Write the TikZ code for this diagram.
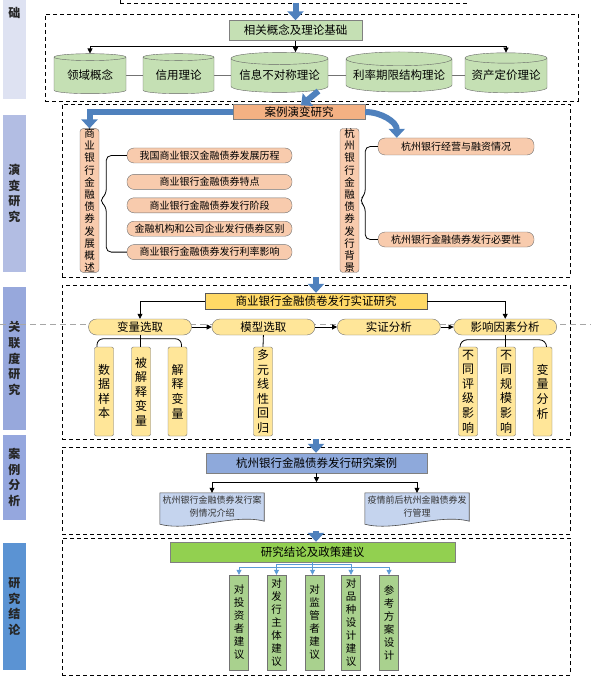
\documentclass[tikz,border=0pt]{standalone}
\usepackage{fontspec}
\setmainfont{Noto Sans CJK SC}
\usetikzlibrary{positioning,calc,arrows.meta,shapes.geometric,backgrounds}
\definecolor{arrowblue}{HTML}{4F81BD}
\definecolor{sb0}{HTML}{DEE2F2}
\definecolor{sb1}{HTML}{B2BDE3}
\definecolor{sb2}{HTML}{97A8DC}
\definecolor{sb3}{HTML}{95A7DE}
\definecolor{sb4}{HTML}{5B93D3}
\definecolor{lgrn}{HTML}{C5E0B4}
\definecolor{sal}{HTML}{F8CBAD}
\definecolor{org}{HTML}{F4B183}
\definecolor{yel}{HTML}{FFD966}
\definecolor{ylt}{HTML}{FFE699}
\definecolor{blu}{HTML}{8EA9DB}
\definecolor{bludoc}{HTML}{C5D4EE}
\definecolor{grn}{HTML}{92D050}
\definecolor{grnlt}{HTML}{A9D18E}
\definecolor{lblue}{HTML}{5B9BD5}
\tikzset{
    group/.style={draw, line width=0.8pt, dash pattern=on 4pt off 3pt, inner sep=0pt, outer sep=0pt},
    side/.style={minimum width=23pt, inner sep=0pt, align=center, text=black!85, font=\bfseries\fontsize{12}{15.6}\selectfont},
    title/.style={draw=black!50, inner sep=0pt, font=\fontsize{11.5}{13}\selectfont},
    cyl/.style={cylinder, shape border rotate=90, aspect=0.15, draw=black!60, fill=lgrn, minimum height=40pt, inner sep=0pt, font=\fontsize{11.5}{13}\selectfont},
    item/.style={draw=black!55, fill=sal, rounded corners=7pt, minimum width=165pt, minimum height=15pt, inner sep=0pt, font=\fontsize{10}{12}\selectfont},
    col/.style={draw=black!55, fill=sal, rounded corners=3pt, inner sep=0pt, minimum width=19pt, minimum height=143pt, align=center, font=\fontsize{10.5}{12.2}\selectfont},
    pill/.style={draw=black!55, fill=ylt, rounded corners=8pt, minimum width=103pt, minimum height=16pt, inner sep=0pt, font=\fontsize{11.5}{13}\selectfont},
    vy/.style={draw=black!55, fill=ylt, rounded corners=2pt, inner sep=0pt, minimum width=19pt, minimum height=89pt, align=center, font=\fontsize{12}{14.6}\selectfont},
    vg/.style={draw=black!55, fill=grnlt, inner sep=0pt, minimum width=19pt, minimum height=95pt, align=center, font=\fontsize{10.5}{13}\selectfont},
    doc/.style={inner sep=0pt, minimum width=104pt, minimum height=28pt, align=center, text=black!80, font=\fontsize{9}{13}\selectfont},
    docline/.style={draw=black!70, fill=bludoc, line width=0.6pt},
    bigarrow/.style={draw=arrowblue, line width=6pt, -{Triangle[length=9pt,width=16pt]}},
    arr/.style={line width=0.7pt, -{Triangle[length=5pt,width=5pt]}},
    barr/.style={draw=lblue, line width=0.8pt, -{Triangle[length=5pt,width=5pt]}},
    guide/.style={draw=black!35, line width=0.6pt, dash pattern=on 6pt off 4pt},
    node distance=8pt
}
\begin{document}
\begin{tikzpicture}[x=1pt,y=-1pt]
\path[use as bounding box, clip] (0,0) rectangle (591,687);

\node[side, fill=sb0, minimum height=109pt] (s0) at (14.5,44.5) {};
\node[side] (s0t) at (14.5,13) {础};
\node[side, fill=sb1, minimum height=157pt] (s1) at (14.5,193.5) {演\\变\\研\\究};
\node[side, fill=sb2, minimum height=143pt] (s2) at (14.5,358.5) {关\\联\\度\\研\\究};
\node[side, fill=sb3, minimum height=85pt] (s3) at (14.5,477.5) {案\\例\\分\\析};
\node[side, fill=sb4, minimum height=127pt] (s4) at (14.5,606.5) {研\\究\\结\\论};

\node[group, minimum width=347pt, minimum height=40pt] (b0) at (293.5,-17) {};
\node[group, minimum width=533pt, minimum height=87pt] (b1) at (311.5,57.5) {};
\node[group, minimum width=508pt, minimum height=173pt] (b2) at (316,190.5) {};
\node[group, minimum width=508pt, minimum height=154pt] (b3) at (316,362) {};
\node[group, minimum width=508pt, minimum height=87pt] (b4) at (316,490.5) {};
\node[group, minimum width=508pt, minimum height=137pt] (b5) at (316,606.5) {};

\node[title, fill=lgrn, minimum width=133pt, minimum height=20pt] (t1) at (295.5,30.5) {相关概念及理论基础};
\node[cyl, minimum width=72pt] (cy1) at (90,75.5) {领域概念};
\node[cyl, minimum width=71pt] (cy2) at (178.5,75.5) {信用理论};
\node[cyl, minimum width=97pt] (cy3) at (279.5,75.5) {信息不对称理论};
\node[cyl, minimum width=106pt] (cy4) at (399,75.5) {利率期限结构理论};
\node[cyl, minimum width=82pt] (cy5) at (506,75.5) {资产定价理论};
\draw[arr] (t1.south) -- (t1.south |- cy3.north);
\draw[arr] (t1.south) ++(0,6) -| (cy1.north);
\draw[arr] (t1.south) ++(0,6) -| (cy5.north);
\draw[bigarrow] (b0.south -| t1.north) -- (t1.north);

\node[title, fill=org, minimum width=132pt, minimum height=15pt] (t2) at (299,112) {案例演变研究};
\node[col] (k1) at (89.5,200.5) {商\\业\\银\\行\\金\\融\\债\\券\\发\\展\\概\\述};
\node[col] (k2) at (349.5,200.5) {杭\\州\\银\\行\\金\\融\\债\\券\\发\\行\\背\\景};
\node[item] (i1) at (209.5,155.5) {我国商业银汉金融债券发展历程};
\node[item, below=11pt of i1] (i2) {商业银行金融债券特点};
\node[item, below=of i2] (i3) {商业银行金融债券发行阶段};
\node[item, below=of i3] (i4) {金融机构和公司企业发行债券区别};
\node[item, below=of i4] (i5) {商业银行金融债券发行利率影响};
\node[item, minimum width=156pt, minimum height=17pt] (h1) at (456,146.5) {杭州银行经营与融资情况};
\node[item, minimum width=156pt] (h2) at (456,239.5) {杭州银行金融债券发行必要性};
\draw[line width=0.8pt, rounded corners=5pt] (i1.west) -| ($(k1.east)+(7,-6)$) -- (k1.east) -- ($(k1.east)+(7,6)$) |- (i5.west);
\draw[line width=0.8pt, rounded corners=5pt] (h1.west) -| ($(k2.east)+(6,-6)$) -- (k2.east) -- ($(k2.east)+(6,6)$) |- (h2.west);
\draw[bigarrow] ($(b1.south)+(7,-10)$) -- ($(t2.north)+(2,1)$);
\draw[bigarrow] (t2.west) -| (k1.north);
\draw[bigarrow] (t2.east) to[out=0,in=90] ($(h1.north west)+(19,0)$);

\draw[guide] (0,324) -- (591,324);
\node[title, fill=yel, draw=black!65, minimum width=222pt, minimum height=16pt] (t3) at (316,301) {商业银行金融债卷发行实证研究};
\node[pill] (p1) at (140,327) {变量选取};
\node[pill, right=20pt of p1] (p2) {模型选取};
\node[pill, right=22pt of p2] (p3) {实证分析};
\node[pill, right=13pt of p3] (p4) {影响因素分析};
\node[vy] (v1) at (104,391.5) {数\\据\\样\\本};
\node[vy] (v2) at (141,391.5) {被\\解\\释\\变\\量};
\node[vy] (v3) at (177.5,391.5) {解\\释\\变\\量};
\node[vy] (v4) at (263,391.5) {多\\元\\线\\性\\回\\归};
\node[vy] (v5) at (468,391.5) {不\\同\\评\\级\\影\\响};
\node[vy] (v6) at (506,391.5) {不\\同\\规\\模\\影\\响};
\node[vy] (v7) at (542.5,391.5) {变\\量\\分\\析};
\draw[arr] (t3.west) -| (p1.north);
\draw[arr] (t3.east) -| (p4.north);
\draw[arr] (p1) -- (p2);
\draw[arr] (p2) -- (p3);
\draw[arr] (p3) -- (p4);
\draw[line width=0.8pt] (p1.south) -- (v2.north -| p1.south);
\draw[line width=0.8pt, rounded corners=6pt] ([xshift=-7pt]v1.north) -- ++(0,-8) -| ([xshift=4pt]v3.north);
\draw[line width=0.8pt] (p2.south) -- (v4.north);
\draw[line width=0.8pt] (p4.south) -- (v6.north -| p4.south);
\draw[line width=0.8pt, rounded corners=7pt] ([xshift=-8pt]v5.north) -- ++(0,-7) -| ([xshift=4pt]v7.north);
\draw[bigarrow] (b2.south) -- (t3.north);

\node[title, fill=blu, minimum width=221pt, minimum height=20pt] (t4) at (316.5,463) {杭州银行金融债券发行研究案例};
\node[doc] (d1) at (212,507) {杭州银行金融债券发行案\\例情况介绍};
\node[doc] (d2) at (417,507) {疫情前后杭州金融债券发\\行管理};
\draw[arr] (t4.south) -- ++(0,9);
\draw[arr] (t4.south) ++(0,9) -| (d1.north);
\draw[arr] (t4.south) ++(0,9) -| (d2.north);
\draw[bigarrow] (b3.south) -- (b3.south |- t4.north);

\node[title, fill=grn, minimum width=285pt, minimum height=20pt] (t5) at (312.5,552) {研究结论及政策建议};
\node[vg] (r1) at (239,622.5) {对\\投\\资\\者\\建\\议};
\node[vg] (r2) at (276.5,622.5) {对\\发\\行\\主\\体\\建\\议};
\node[vg] (r3) at (314.5,622.5) {对\\监\\管\\者\\建\\议};
\node[vg] (r4) at (351,622.5) {对\\品\\种\\设\\计\\建\\议};
\node[vg] (r5) at (389,622.5) {参\\考\\方\\案\\设\\计};
\draw[barr] (t5.south) -- (t5.south |- r3.north);
\foreach \rr in {r1,r5}
  \draw[barr] (t5.south) ++(0,5) -| (\rr.north);
\foreach \rr in {r2,r4}
  \draw[barr] (t5.south) ++(0,2.5) -| (\rr.north);
\draw[bigarrow] ($(b4.south)+(0,-3)$) -- (b4.south |- t5.north);

\begin{scope}[on background layer]
\foreach \dc in {d1,d2}
  \draw[docline] (\dc.north west) -- (\dc.north east) -- (\dc.south east) .. controls +(-30,-8) and +(30,8) .. ([yshift=-3pt]\dc.south west) -- cycle;
\draw[draw=black!55, line width=0.8pt] (cy1) -- (cy5);
\end{scope}
\end{tikzpicture}
\end{document}
